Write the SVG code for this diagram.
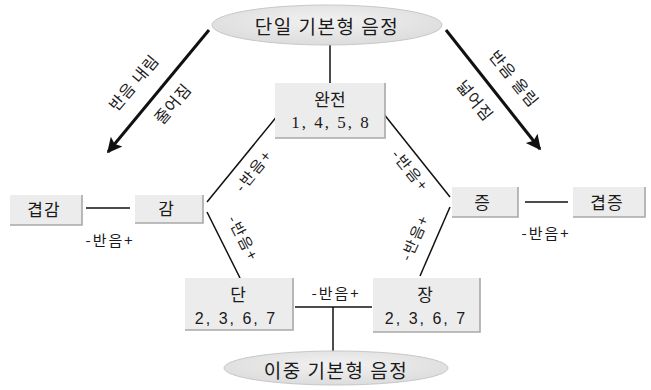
<svg xmlns="http://www.w3.org/2000/svg" width="651" height="390" viewBox="0 0 651 390">
<style>
.box{fill:#ececec;}
.sh{fill:none;stroke:#a8a8a8;stroke-width:1.6;}
.ell{fill:url(#eg);stroke:#c8c8c8;stroke-width:1;}
.ko{font-family:"Noto Sans CJK KR","Noto Sans",sans-serif;fill:#1a1a1a;text-anchor:middle;dominant-baseline:central;}
.t{font-size:17px;}
.big{font-size:19px;letter-spacing:1.5px;}
.lbl{font-size:15px;letter-spacing:2px;}
.lbl2{font-size:16px;letter-spacing:1px;}
.num{font-family:"Liberation Serif",serif;font-size:17px;letter-spacing:2px;fill:#1a1a1a;text-anchor:middle;dominant-baseline:central;}
.nums{font-family:"Liberation Sans",sans-serif;font-size:16px;letter-spacing:2px;fill:#1a1a1a;text-anchor:middle;dominant-baseline:central;}
.ln{stroke:#111;stroke-width:1.5;fill:none;}
.ar{stroke:#111;stroke-width:3;fill:none;}
</style>
<defs>
<radialGradient id="eg" cx="0.5" cy="0.4" r="0.6">
<stop offset="0" stop-color="#f2f2f2"/>
<stop offset="1" stop-color="#dcdcdc"/>
</radialGradient>
<marker id="ah" viewBox="0 0 10 10" refX="9" refY="5" markerWidth="7" markerHeight="5" orient="auto" markerUnits="strokeWidth">
<path d="M0,0 L10,5 L0,10 L2,5 Z" fill="#111"/>
</marker>
</defs>
<rect width="651" height="390" fill="#ffffff"/>

<g id="connectors">
<line class="ln" x1="330" y1="45" x2="330" y2="83"/>
<line class="ln" x1="278" y1="115" x2="207" y2="202"/>
<line class="ln" x1="207" y1="212" x2="240" y2="278"/>
<line class="ln" x1="383" y1="113" x2="450" y2="197"/>
<line class="ln" x1="450" y1="207" x2="420" y2="276"/>
<line class="ln" x1="86" y1="208" x2="130" y2="208"/>
<line class="ln" x1="525" y1="202" x2="568" y2="202"/>
<line class="ln" x1="295" y1="307" x2="372" y2="307"/>
<line class="ln" x1="333" y1="307" x2="333" y2="352"/>
<line class="ar" x1="209" y1="30" x2="108" y2="152" marker-end="url(#ah)"/>
<line class="ar" x1="446" y1="30" x2="540" y2="149" marker-end="url(#ah)"/>
<text class="ko lbl2" transform="translate(133,82) rotate(-50)">반음 내림</text>
<text class="ko lbl2" transform="translate(172,103) rotate(-50)">줄어짐</text>
<text class="ko lbl2" transform="translate(515,78) rotate(51)">반음 올림</text>
<text class="ko lbl2" transform="translate(476,100) rotate(51)">넓어짐</text>
<text class="ko lbl" transform="translate(253,170) rotate(-51)">-반음+</text>
<text class="ko lbl" transform="translate(244,238) rotate(63)">-반음+</text>
<text class="ko lbl" transform="translate(411,170) rotate(51)">-반음+</text>
<text class="ko lbl" transform="translate(414,237) rotate(-66)">-반음+</text>
<text class="ko lbl" x="110" y="239">-반음+</text>
<text class="ko lbl" x="546" y="232">-반음+</text>
<text class="ko lbl" x="336" y="292">-반음+</text>
</g>

<g id="top">
<ellipse class="ell" cx="327" cy="25" rx="115" ry="20"/>
<text class="ko big" x="327" y="25">단일 기본형 음정</text>
</g>

<g id="wanjeon">
<rect class="box" x="275" y="83" width="110" height="55"/>
<path class="sh" d="M385,83 V138 H275"/>
<text class="ko t" x="330" y="98">완전</text>
<text class="num" x="331" y="122">1, 4, 5, 8</text>
</g>

<g id="gyeopgam">
<rect class="box" x="10" y="195" width="72" height="30"/>
<path class="sh" d="M82,195 V225 H10"/>
<text class="ko t" x="44" y="208" letter-spacing="1">겹감</text>
</g>

<g id="gam">
<rect class="box" x="135" y="195" width="68" height="28"/>
<path class="sh" d="M203,195 V223 H135"/>
<text class="ko t" x="166" y="207">감</text>
</g>

<g id="jeung">
<rect class="box" x="452" y="187" width="66" height="30"/>
<path class="sh" d="M518,187 V217 H452"/>
<text class="ko t" x="482" y="201">증</text>
</g>

<g id="gyeopjeung">
<rect class="box" x="573" y="187" width="72" height="30"/>
<path class="sh" d="M645,187 V217 H573"/>
<text class="ko t" x="607" y="201" letter-spacing="1">겹증</text>
</g>

<g id="dan">
<rect class="box" x="185" y="278" width="108" height="52"/>
<path class="sh" d="M293,278 V330 H185"/>
<text class="ko t" x="238" y="293">단</text>
<text class="nums" x="236" y="318">2, 3, 6, 7</text>
</g>

<g id="jang">
<rect class="box" x="373" y="278" width="107" height="54"/>
<path class="sh" d="M480,278 V332 H373"/>
<text class="ko t" x="425" y="293">장</text>
<text class="nums" x="426" y="318">2, 3, 6, 7</text>
</g>

<g id="bottom">
<ellipse class="ell" cx="336" cy="368" rx="112" ry="17"/>
<text class="ko big" x="336" y="369">이중 기본형 음정</text>
</g>
</svg>
